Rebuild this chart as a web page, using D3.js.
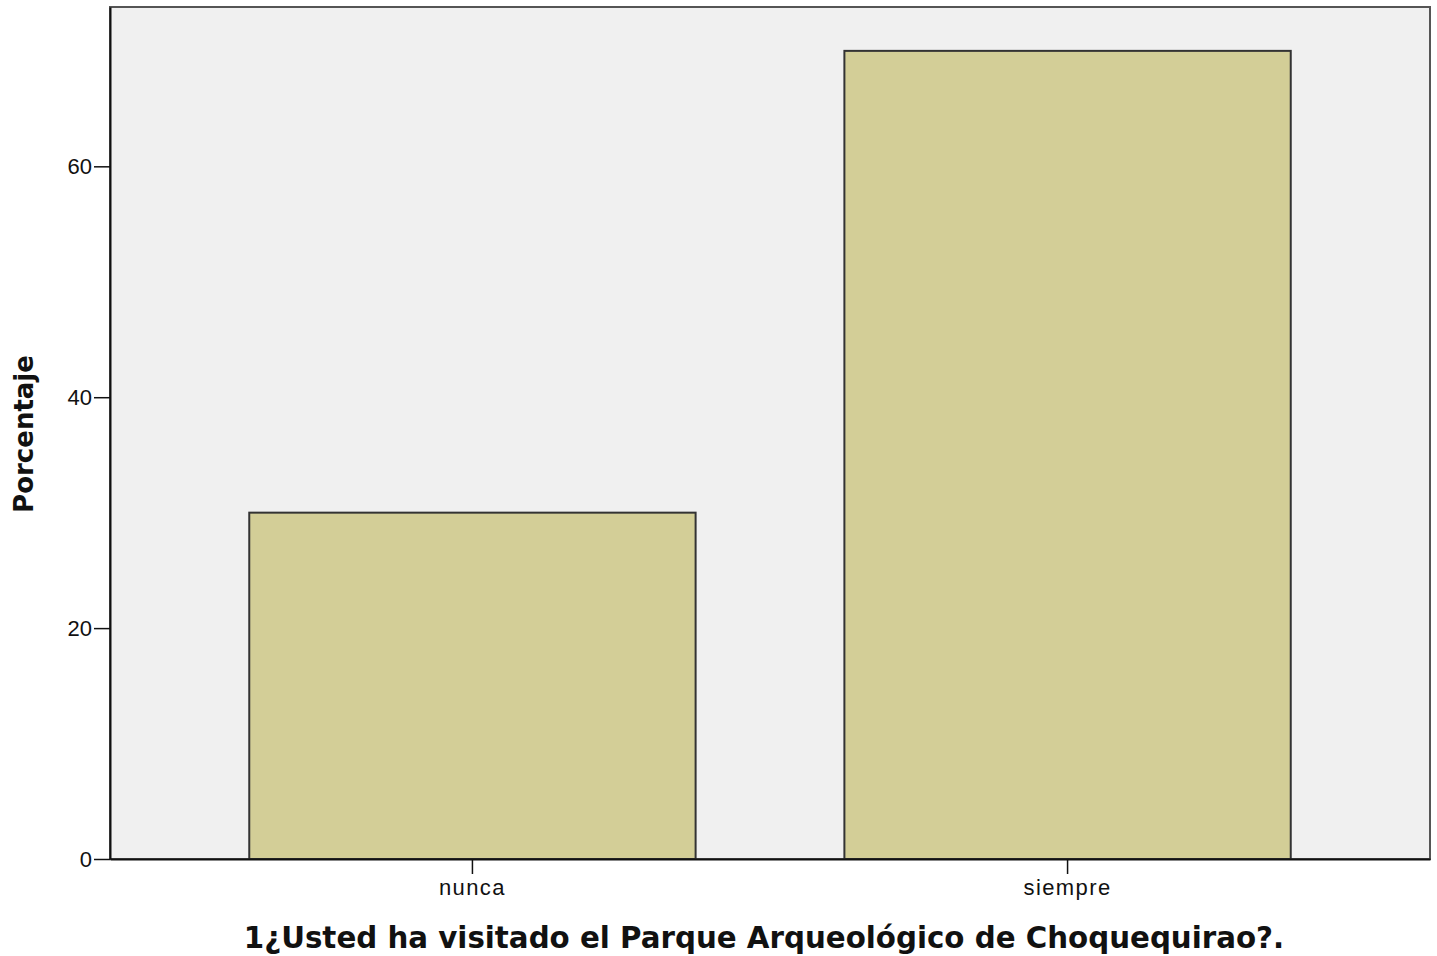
<!DOCTYPE html>
<html>
<head>
<meta charset="utf-8">
<script src="https://cdn.jsdelivr.net/npm/d3@7"></script>
<style>
  body { margin: 0; background: #fff; }
  svg text { font-family: Arial, "Liberation Sans", sans-serif; }
</style>
</head>
<body>
<div id="chart"></div>
<script>
// DATA
const categories = ["nunca", "siempre"];
const percentages = [30, 70];
const yTicks = [0, 20, 40, 60];

// SIZE
const margin = { top: 7, right: 7, bottom: 97, left: 110 },
      width = 1437 - margin.left - margin.right,
      height = 956 - margin.top - margin.bottom;

const svg = d3.select("#chart")
    .append("svg")
    .attr("width", width + margin.left + margin.right)
    .attr("height", height + margin.top + margin.bottom)
    .append("g")
    .attr("transform", `translate(${margin.left},${margin.top})`);

// SCALES
const xScale = d3.scaleBand()
    .domain(categories)
    .range([0, width])
    .paddingInner(0.25)
    .paddingOuter(0.234);

const yScale = d3.scaleLinear()
    .domain([0, 73.8])
    .range([height, 0]);

// plot background + frame
svg.append("rect")
    .attr("width", width)
    .attr("height", height)
    .attr("fill", "#f0f0f0")
    .attr("stroke", "#555")
    .attr("stroke-width", 2);

// BARS
svg.selectAll("rect.bar")
    .data(categories)
    .enter()
    .append("rect")
    .attr("class", "bar")
    .attr("x", d => xScale(d))
    .attr("y", (d, i) => yScale(percentages[i]))
    .attr("width", xScale.bandwidth())
    .attr("height", (d, i) => height - yScale(percentages[i]))
    .attr("fill", "#d3ce97")
    .attr("stroke", "#333")
    .attr("stroke-width", 2);

// AXES
const yAxis = svg.append("g")
    .call(d3.axisLeft(yScale).tickValues(yTicks).tickSize(16).tickPadding(2).tickSizeOuter(0));
const xAxis = svg.append("g")
    .attr("transform", `translate(0,${height})`)
    .call(d3.axisBottom(xScale).tickSize(15).tickPadding(5).tickSizeOuter(0));

[yAxis, xAxis].forEach(ax => {
    ax.select(".domain").attr("stroke", "#111").attr("stroke-width", 2);
    ax.selectAll(".tick line").attr("stroke", "#111").attr("stroke-width", 1.5);
    ax.selectAll(".tick text")
        .attr("fill", "#111")
        .style("font-size", "22px")
        .style("font-family", "Arial, 'Liberation Sans', sans-serif");
});
xAxis.selectAll(".tick text").style("letter-spacing", "1.4px");

// LABELS
svg.append("text")
    .attr("x", 764 - margin.left)
    .attr("y", 948 - margin.top)
    .attr("text-anchor", "middle")
    .style("font-family", "'DejaVu Sans', Verdana, sans-serif")
    .style("font-size", "29.3px")
    .style("font-weight", "bold")
    .attr("fill", "#111")
    .text("1¿Usted ha visitado el Parque Arqueológico de Choquequirao?.");

svg.append("text")
    .attr("transform", "rotate(-90)")
    .attr("x", -(434 - margin.top))
    .attr("y", 33 - margin.left)
    .attr("text-anchor", "middle")
    .style("font-family", "'DejaVu Sans', Verdana, sans-serif")
    .style("font-size", "26px")
    .style("font-weight", "bold")
    .attr("fill", "#111")
    .text("Porcentaje");
</script>
</body>
</html>
